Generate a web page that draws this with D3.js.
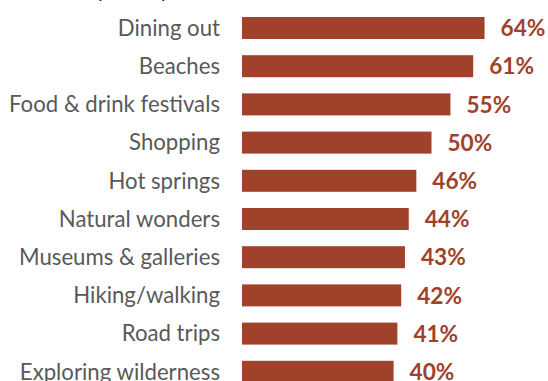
<!DOCTYPE html>
<html>
<head>
<meta charset="utf-8">
<script src="https://cdn.jsdelivr.net/npm/d3@7"></script>
<style>
  body { margin: 0; background: #fff; }
  svg { display: block; }
</style>
</head>
<body>
<div id="chart"></div>
<script>
var activities = ["Dining out", "Beaches", "Food & drink festivals", "Shopping", "Hot springs",
                  "Natural wonders", "Museums & galleries", "Hiking/walking", "Road trips", "Exploring wilderness"];
var shares = [64, 61, 55, 50, 46, 44, 43, 42, 41, 40];

var width = 548, height = 381;
var barColor = "#a0412b";

var svg = d3.select("#chart").append("svg")
    .attr("width", width)
    .attr("height", height);

svg.append("rect")
    .attr("width", width)
    .attr("height", height)
    .attr("fill", "#ffffff");

// title sits above the crop, only its descenders show
svg.append("text")
    .attr("x", 170)
    .attr("y", -2)
    .attr("text-anchor", "end")
    .attr("font-family", "Lato")
    .attr("font-style", "italic")
    .attr("font-size", 19)
    .attr("fill", "#111")
    .text("Holiday activity");

var x = d3.scaleLinear().domain([0, 100]).range([242, 242 + 379]);
var y = d3.scaleBand()
    .domain(activities)
    .range([17, 17 + 38.2 * (activities.length - 0.424)])
    .paddingInner(0.424)
    .paddingOuter(0);

var data = activities.map(function(a, i) { return {name: a, value: shares[i]}; });

var rows = svg.append("g").selectAll("g")
    .data(data)
    .enter().append("g");

rows.append("rect")
    .attr("x", x(0))
    .attr("y", function(d) { return y(d.name); })
    .attr("width", function(d) { return x(d.value) - x(0); })
    .attr("height", y.bandwidth())
    .attr("fill", barColor);

rows.append("text")
    .attr("x", 220)
    .attr("y", function(d) { return y(d.name) + y.bandwidth() / 2; })
    .attr("dy", "0.35em")
    .attr("text-anchor", "end")
    .attr("font-family", "Lato")
    .attr("font-size", 22.2)
    .attr("fill", "#595959")
    .text(function(d) { return d.name; });

rows.append("text")
    .attr("x", function(d) { return x(d.value) + 16; })
    .attr("y", function(d) { return y(d.name) + y.bandwidth() / 2; })
    .attr("dy", "0.36em")
    .attr("font-family", "Lato")
    .attr("font-weight", "bold")
    .attr("font-size", 22.6)
    .attr("fill", barColor)
    .text(function(d) { return d.value + "%"; });
</script>
</body>
</html>
